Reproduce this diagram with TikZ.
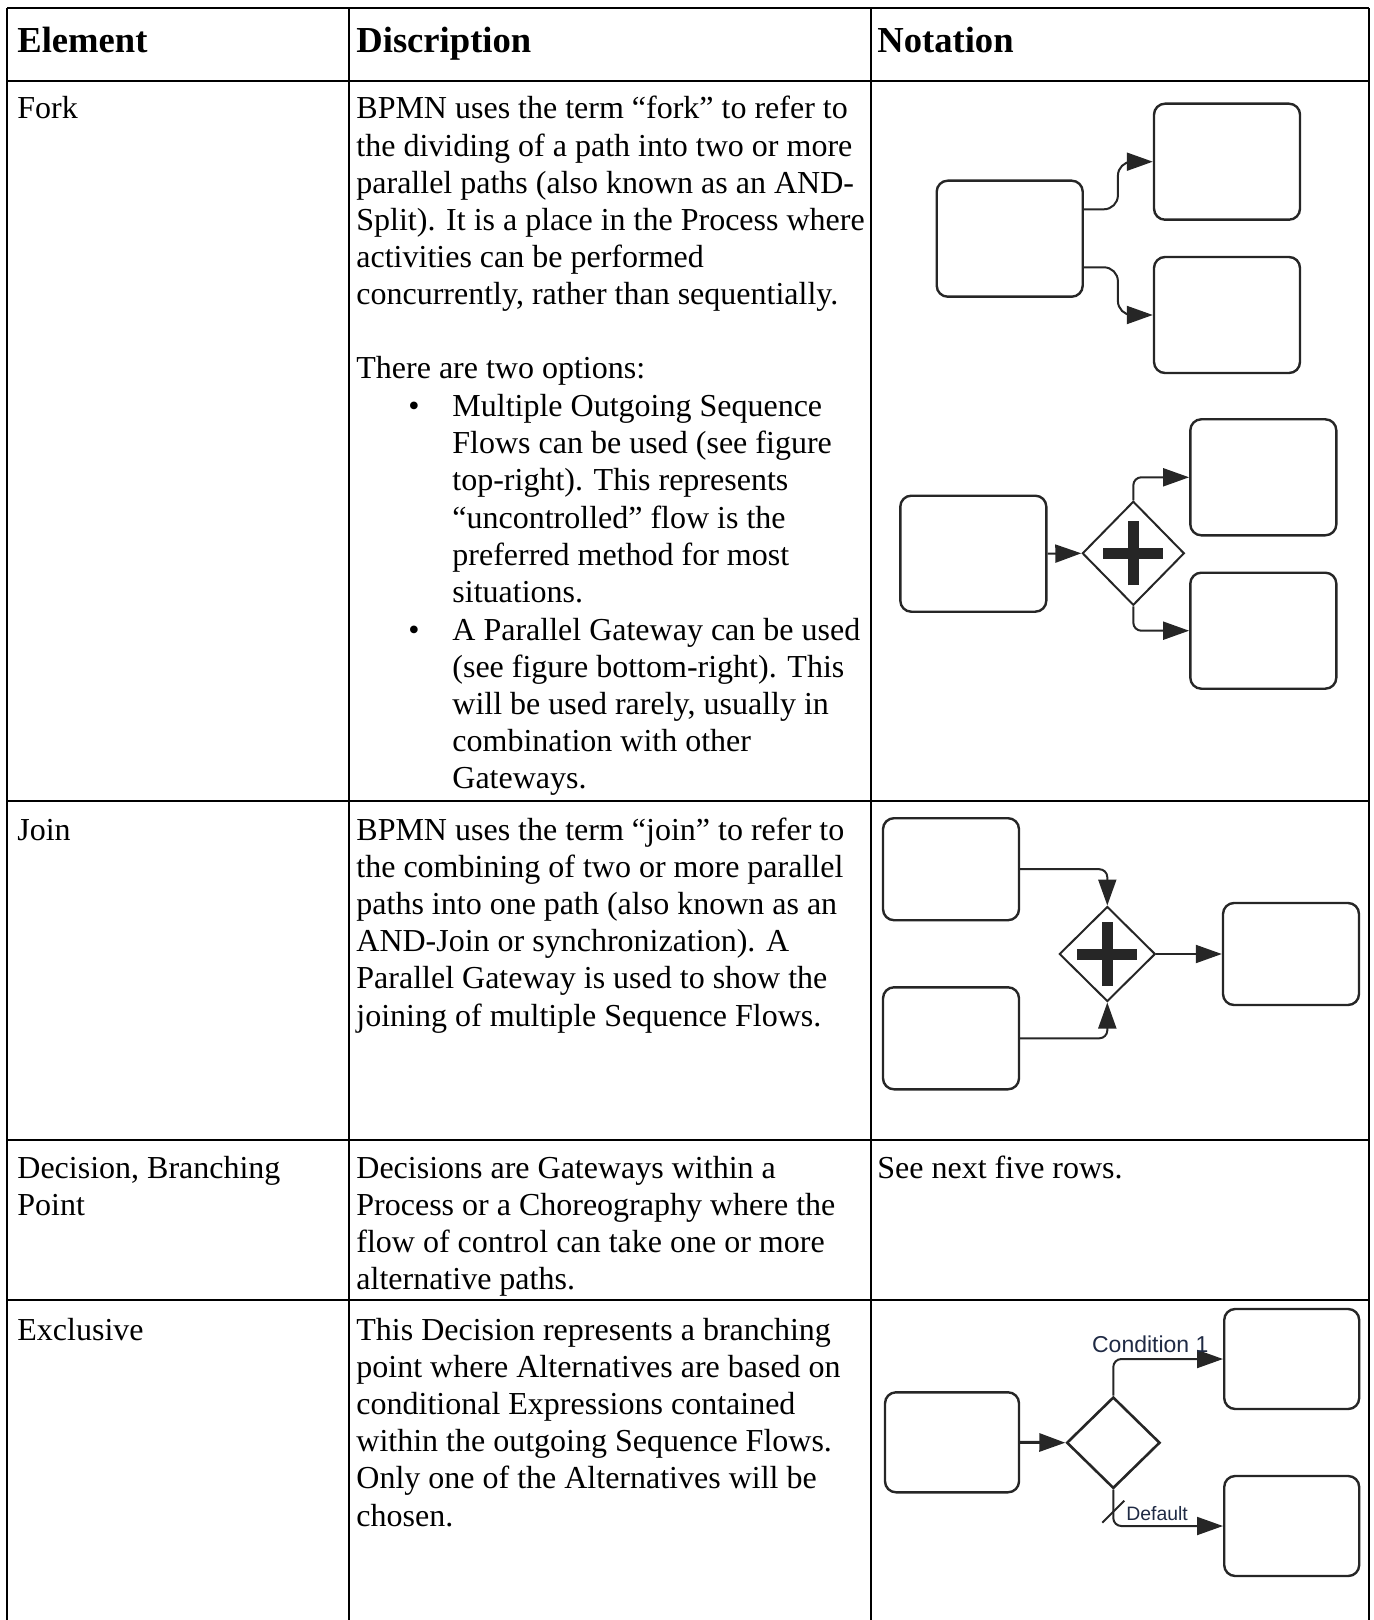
\documentclass[tikz,border=0pt]{standalone}
\usepackage{fontspec}
\setmainfont{Liberation Serif}
\newfontfamily\labelfont{Liberation Sans}
\usetikzlibrary{arrows.meta,shapes.geometric,positioning}
\definecolor{labelblue}{HTML}{1F2A44}

\begin{document}
\begin{tikzpicture}[x=0.5pt,y=-0.5pt]
\tikzset{every node/.style={inner sep=0pt}}
\tikzset{rule/.style={line width=1.1pt}}
% multi-line cells sit on the baseline of their last line
\tikzset{cell/.style={anchor=base west,align=left,font=\fontsize{16pt}{18.6pt}\selectfont}}
\tikzset{head/.style={anchor=base west,font=\fontsize{18.3pt}{21pt}\selectfont\bfseries}}
\tikzset{task/.style={draw=black!85,line width=1.2pt,rounded corners=5.5pt,minimum width=73pt,minimum height=58pt}}
\tikzset{gateway/.style={diamond,draw=black!85,line width=1pt,minimum width=51pt,minimum height=52pt}}
\tikzset{parallel/.style={gateway,path picture={
  \draw[line width=5.5pt] ([xshift=-15pt]path picture bounding box.center) -- ([xshift=15pt]path picture bounding box.center);
  \draw[line width=5.5pt] ([yshift=-16pt]path picture bounding box.center) -- ([yshift=16pt]path picture bounding box.center);}}}
\tikzset{flow/.style={draw=black!85,line width=1pt,rounded corners=4pt,-{Triangle[length=13pt,width=9pt]}}}
\tikzset{flowlabel/.style={anchor=base west,text=labelblue}}

\useasboundingbox (0,0) rectangle (1374,1620);

% table rules
\foreach \y in {8,81,801,1140,1300}
  \draw[rule] (7,\y) -- (1369,\y);
\foreach \x in {7,349,871,1369}
  \draw[rule] (\x,8) -- (\x,1620);

% header
\node[head] (hElem) at (17,53) {Element};
\node[head] (hDesc) at (356,53) {Discription};
\node[head] (hNot) at (877,53) {Notation};

% fork
\node[cell] (forkEl) at (17,119) {Fork};
\node[cell] (forkDesc) at (356,305) {BPMN uses the term “fork” to refer to\\the dividing of a path into two or more\\parallel paths (also known as an AND-\\Split). It is a place in the Process where\\activities can be performed\\concurrently, rather than sequentially.};
\node[cell] (forkOpt) at (356,379) {There are two options:};
\node[cell] (bulA) at (408,416.5) {•};
\node[cell] (forkA) at (452,602.5) {Multiple Outgoing Sequence\\Flows can be used (see figure\\top-right). This represents\\“uncontrolled” flow is the\\preferred method for most\\situations.};
\node[cell] (bulB) at (408,640) {•};
\node[cell] (forkB) at (452,788.8) {A Parallel Gateway can be used\\(see figure bottom-right). This\\will be used rarely, usually in\\combination with other\\Gateways.};

\node[task] (f1src) at (1009.7,238.7) {};
\node[task] (f1a) at (1227,161.7) {};
\node[task] (f1b) at (1227,315) {};
\draw[flow,rounded corners=7pt] ([yshift=14.7pt]f1src.east) -- ++(34,0) |- (f1a.west);
\draw[flow,rounded corners=7pt] ([yshift=-14.3pt]f1src.east) -- ++(34,0) |- (f1b.west);

\node[task] (f2src) at (973.3,553.7) {};
\node[parallel] (f2gw) at (1133.3,553.3) {};
\node[task] (f2a) at (1263.3,477.3) {};
\node[task] (f2b) at (1263.3,630.7) {};
\draw[flow] (f2src.east) -- (f2gw.west);
\draw[flow] (f2gw.north) |- (f2a.west);
\draw[flow] (f2gw.south) |- (f2b.west);

% join
\node[cell] (joinEl) at (17,840) {Join};
\node[cell] (joinDesc) at (356,1026) {BPMN uses the term “join” to refer to\\the combining of two or more parallel\\paths into one path (also known as an\\AND-Join or synchronization). A\\Parallel Gateway is used to show the\\joining of multiple Sequence Flows.};

\node[task,minimum width=68pt,minimum height=51pt] (j1) at (951,869.2) {};
\node[task,minimum width=68pt,minimum height=51pt] (j2) at (951,1038.3) {};
\node[parallel,minimum width=48pt,minimum height=47.5pt] (jgw) at (1107.3,954) {};
\node[task,minimum width=68pt,minimum height=51pt] (j3) at (1291,954) {};
\draw[flow] (j1.east) -| (jgw.north);
\draw[flow] (j2.east) -| (jgw.south);
\draw[flow] (jgw.east) -- (j3.west);

% decision
\node[cell] (decEl) at (17,1215.2) {Decision, Branching\\Point};
\node[cell] (decDesc) at (356,1289.6) {Decisions are Gateways within a\\Process or a Choreography where the\\flow of control can take one or more\\alternative paths.};
\node[cell] (decNot) at (877,1178) {See next five rows.};

% exclusive
\node[cell] (exEl) at (17,1340) {Exclusive};
\node[cell] (exDesc) at (356,1526) {This Decision represents a branching\\point where Alternatives are based on\\conditional Expressions contained\\within the outgoing Sequence Flows.\\Only one of the Alternatives will be\\chosen.};

\node[task,minimum width=67pt,minimum height=50pt] (e1) at (952,1442.3) {};
\node[gateway,line width=1.3pt,minimum width=46.7pt,minimum height=45.7pt] (egw) at (1113.3,1442.7) {};
\node[task,minimum width=67.5pt,minimum height=50pt] (e2) at (1291.7,1359) {};
\node[task,minimum width=67.5pt,minimum height=50pt] (e3) at (1291.7,1526) {};
\draw[flow,line width=1.5pt] (e1.east) -- (egw.west);
\draw[flow] (egw.north) |- (e2.west);
\draw[flow] (egw.south) |- (e3.west);
\draw[draw=black!85,line width=1pt] ([shift={(-5.5pt,-16.5pt)}]egw.south) -- ++(22,-22);
\node[flowlabel,font=\labelfont\fontsize{11.5pt}{13pt}\selectfont] (cond1) at (1091.7,1352.7) {Condition 1};
\node[flowlabel,font=\labelfont\fontsize{9.7pt}{11pt}\selectfont] (dflt) at (1126,1520.7) {Default};

\end{tikzpicture}
\end{document}
